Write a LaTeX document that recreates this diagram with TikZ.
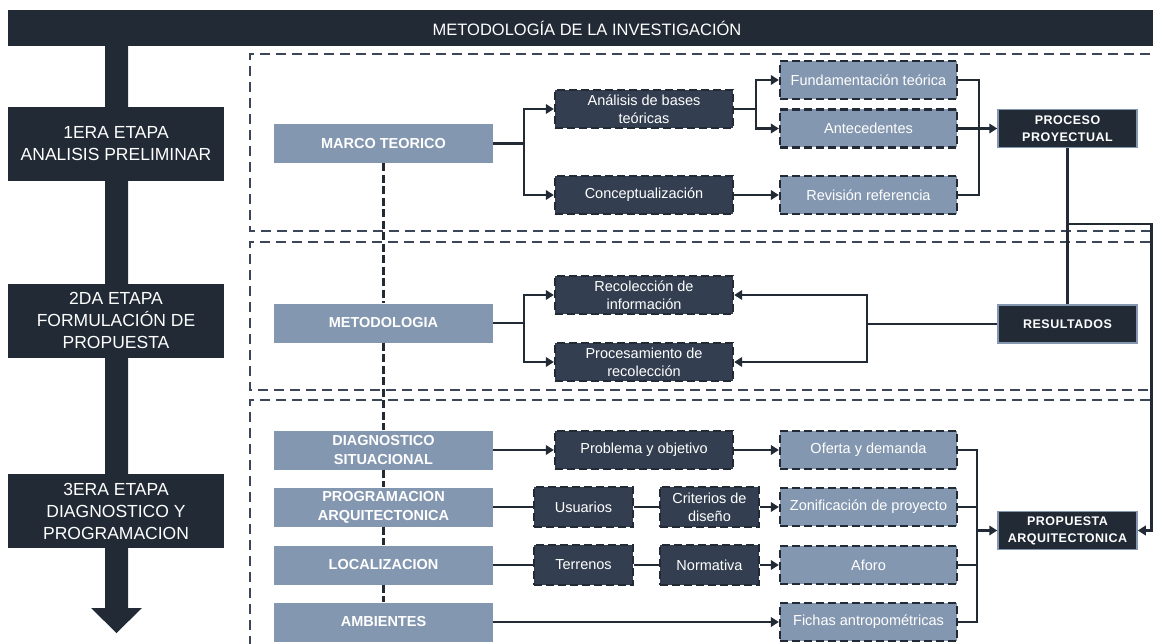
\documentclass[tikz,border=0pt]{standalone}
\usepackage{fontspec}
\setmainfont{Liberation Sans}
\newfontfamily\spaced[LetterSpace=4]{Liberation Sans}
\usetikzlibrary{arrows.meta}
\definecolor{navy}{HTML}{222A35}
\definecolor{slate}{HTML}{333F50}
\definecolor{steel}{HTML}{8497B0}
\definecolor{secline}{HTML}{3B4658}

\begin{document}
\begin{tikzpicture}[x=1pt, y=-1pt,
  >={Triangle[length=8pt,width=9.5pt]},
  link/.style={draw=navy, line width=2.7pt},
  sectline/.style={draw=secline, line width=2pt, dash pattern=on 10pt off 6pt},
  spine/.style={draw=navy, line width=3pt, dash pattern=on 8pt off 3.5pt},
  stagebox/.style={fill=navy, text=white, minimum width=216pt, minimum height=74pt,
    align=center, inner sep=0pt, font=\fontsize{17.5}{22}\selectfont},
  topicbox/.style={fill=steel, text=white, minimum width=219pt, minimum height=39pt,
    align=center, inner sep=0pt, font=\fontsize{14.5}{19}\selectfont\bfseries},
  taskbox/.style={fill=slate, draw=navy, line width=2.3pt, dash pattern=on 8pt off 4pt,
    text=white, minimum width=178pt, minimum height=38pt, align=center, inner sep=0pt,
    font=\fontsize{14.5}{18}\selectfont},
  smalltask/.style={taskbox, minimum width=99pt, minimum height=40pt},
  itembox/.style={taskbox, fill=steel, minimum width=177pt},
  goalbox/.style={fill=navy, draw=steel, line width=1.5pt, text=white, minimum width=139pt,
    minimum height=38pt, align=center, inner sep=0pt, font=\fontsize{12.5}{17}\selectfont\spaced\bfseries}
]
  \useasboundingbox (0,0) rectangle (1153,644);

  %% etapas
  \draw[sectline] (1150,54) -| (250,231) -- (1150,231);
  \draw[sectline] (1150,242) -| (250,390) -- (1150,390);
  \draw[sectline] (1150,400) -| (250,644);

  \fill[navy] (105,46) -- (128,46) -- (128,608) -- (142,608) -- (116.5,633)
    -- (91,608) -- (105,608) -- cycle;
  \node[fill=navy, text=white, minimum width=1158pt, minimum height=36pt, inner sep=0pt,
    font=\fontsize{16.5}{18}\selectfont] (title) at (587,28) {METODOLOGÍA DE LA INVESTIGACIÓN};

  \node[stagebox] (st1) at (116,144) {1ERA ETAPA\\ANALISIS PRELIMINAR};
  \node[stagebox] (st2) at (116,320.5) {2DA ETAPA\\FORMULACIÓN DE\\PROPUESTA};
  \node[stagebox] (st3) at (116,511) {3ERA ETAPA\\DIAGNOSTICO Y\\PROGRAMACION};

  \node[topicbox] (marco) at (383.5,143.5) {MARCO TEORICO};
  \node[topicbox] (meto) at (383.5,323) {METODOLOGIA};
  \node[topicbox] (diag) at (383.5,450) {DIAGNOSTICO\\SITUACIONAL};
  \node[topicbox] (prog) at (383.5,507) {PROGRAMACION\\ARQUITECTONICA};
  \node[topicbox] (loc) at (383.5,565) {LOCALIZACION};
  \node[topicbox] (amb) at (383.5,622) {AMBIENTES};
  \foreach \a/\b in {marco/meto,meto/diag,diag/prog,prog/loc,loc/amb}
    \draw[spine] (\a) -- (\b);

  \node[taskbox] (anal) at (644,109) {Análisis de bases\\teóricas};
  \node[taskbox] (conc) at (644,195) {Conceptualización};
  \node[taskbox] (reco) at (644,295) {Recolección de\\información};
  \node[taskbox] (proc) at (644,362) {Procesamiento de\\recolección};
  \node[taskbox] (prob) at (644,450) {Problema y objetivo};
  \node[smalltask] (usu) at (583.5,507) {Usuarios};
  \node[smalltask] (crit) at (709.5,507) {Criterios de\\diseño};
  \node[smalltask] (ter) at (583.5,565) {Terrenos};
  \node[smalltask] (norm) at (709.5,565) {Normativa};

  \node[itembox] (fund) at (868.5,80) {Fundamentación teórica};
  \node[itembox] (ante) at (868.5,128.5) {Antecedentes};
  \node[itembox] (revi) at (868.5,195) {Revisión referencia};
  \node[itembox] (ofer) at (868.5,450) {Oferta y demanda};
  \node[itembox] (zoni) at (868.5,507) {Zonificación de proyecto};
  \node[itembox] (afor) at (868.5,565) {Aforo};
  \node[itembox] (fich) at (868.5,622) {Fichas antropométricas};

  \node[goalbox] (pp) at (1067.5,128.5) {PROCESO\\PROYECTUAL};
  \node[goalbox] (res) at (1067.5,324) {RESULTADOS};
  \node[goalbox] (prop) at (1067.5,530.5) {PROPUESTA\\ARQUITECTONICA};

  \coordinate (m1) at (524,143.5);
  \coordinate (m2) at (524,323);
  \coordinate (a1) at (756,109);
  \coordinate (r1) at (979,128.5);
  \coordinate (s1) at (867,324);
  \coordinate (p1) at (1067.5,224);
  \coordinate (p2) at (1151.5,224);
  \coordinate (d1) at (977,530.5);

  %% marco -> proceso
  \draw[link,->] (marco) -- (m1) |- (anal);
  \draw[link,->] (m1) |- (conc);
  \draw[link,->] (anal) -- (a1) |- (fund);
  \draw[link,->] (a1) |- (ante);
  \draw[link,->] (conc) -- (revi);
  \draw[link] (fund) -| (r1) |- (revi);
  \draw[link,->] (ante) -- (pp);

  %% proceso -> resultados, propuesta
  \draw[link] (pp) -- (res);
  \draw[link,->] (p1) -- (p2) |- (prop);
  \draw[link] (res) -- (s1);
  \draw[link,->] (s1) |- (reco);
  \draw[link,->] (s1) |- (proc);
  \draw[link,->] (meto) -- (m2) |- (reco);
  \draw[link,->] (m2) |- (proc);

  %% diagnostico -> propuesta
  \draw[link,->] (diag) -- (prob);
  \draw[link,->] (prob) -- (ofer);
  \draw[link] (prog) -- (usu);
  \draw[link] (usu) -- (crit);
  \draw[link,->] (crit) -- (zoni);
  \draw[link] (loc) -- (ter);
  \draw[link] (ter) -- (norm);
  \draw[link,->] (norm) -- (afor);
  \draw[link,->] (amb) -- (fich);
  \foreach \n in {ofer,zoni,afor,fich}
    \draw[link] (\n) -| (d1);
  \draw[link,->] (d1) -- (prop);
\end{tikzpicture}
\end{document}
